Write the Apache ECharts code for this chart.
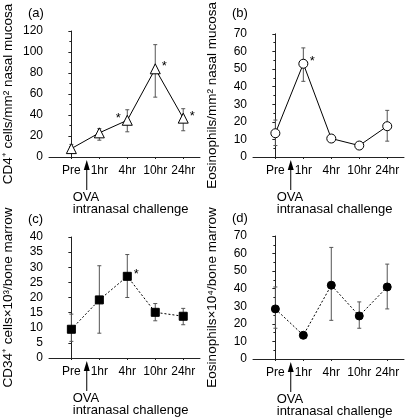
<!DOCTYPE html>
<html><head><meta charset="utf-8">
<script src="https://cdn.jsdelivr.net/npm/echarts@6/dist/echarts.min.js"></script>
<style>html,body{margin:0;padding:0;background:#fff}#c{width:408px;height:418px}</style>
</head><body><div id="c"></div>
<script>
const categories = ['Pre', '1hr', '4hr', '10hr', '24hr'];
const panelLetters = ['(a)', '(b)', '(c)', '(d)'];
const yTitles = ['CD4\u207A cells/mm\u00B2 nasal mucosa', 'Eosinophils/mm\u00B2 nasal mucosa',
                 'CD34\u207A cells\u00D710\u00B3/bone marrow', 'Eosinophils\u00D710\u2074/bone marrow'];
const yMax = [120, 70, 40, 70];
const yStep = [20, 10, 5, 10];
const yMinor = [true, true, false, true];
// (a) CD4+ cells nasal mucosa
const cd4Mean = [8, 23, 35, 84, 37];
const cd4Low = [5, 16, 24, 57, 25];
const cd4High = [12, 27, 45, 107, 46];
const cd4Sig = [0, 0, -1, 1, 1];
// (b) Eosinophils nasal mucosa
const eosNasalMean = [13.5, 53, 10.5, 6.5, 17.5];
const eosNasalLow = [6.5, 43, 10.5, 6.5, 9];
const eosNasalHigh = [21, 62, 10.5, 6.5, 26.5];
const eosNasalSig = [0, 1, 0, 0, 0];
// (c) CD34+ cells bone marrow
const cd34Mean = [9.5, 19.2, 27, 15.1, 13.8];
const cd34Low = [5.5, 8.2, 20, 12.3, 11];
const cd34High = [14.5, 30.5, 34.2, 18, 16.4];
const cd34Sig = [0, 0, 1, 0, 0];
// (d) Eosinophils bone marrow
const eosMarrowMean = [28.5, 13.5, 42, 24.5, 41];
const eosMarrowLow = [17.5, 12.5, 22, 17.5, 28.5];
const eosMarrowHigh = [41, 14.5, 63.5, 32.5, 54];
const eosMarrowSig = [0, 0, 0, 0, 0];
const challengeAt = 0.55;

const panels = [
  {mean: cd4Mean, low: cd4Low, high: cd4High, sig: cd4Sig, symbol: 'triangle', size: 10, fill: '#fff', dash: 'solid'},
  {mean: eosNasalMean, low: eosNasalLow, high: eosNasalHigh, sig: eosNasalSig, symbol: 'circle', size: 9, fill: '#fff', dash: 'solid'},
  {mean: cd34Mean, low: cd34Low, high: cd34High, sig: cd34Sig, symbol: 'rect', size: 8, fill: '#000', dash: [2, 2]},
  {mean: eosMarrowMean, low: eosMarrowLow, high: eosMarrowHigh, sig: eosMarrowSig, symbol: 'circle', size: 8, fill: '#000', dash: [2, 2]}
];
const grids = [
  {left: 49, top: 31, width: 151, height: 126},
  {left: 253, top: 31, width: 151, height: 126},
  {left: 49, top: 237, width: 151, height: 121},
  {left: 253, top: 236, width: 151, height: 123}
];
const FONT = '"Liberation Sans", Arial, Helvetica, sans-serif';

function errRender(params, api) {
  const i = api.value(0);
  const pLo = api.coord([i, api.value(1)]);
  const pHi = api.coord([i, api.value(2)]);
  const pM = api.coord([i, api.value(3)]);
  const s = api.value(4);
  const ch = [];
  const st = {stroke: '#555', lineWidth: 1};
  if (pLo[1] - pHi[1] > 1) {
    ch.push({type: 'line', shape: {x1: pLo[0], y1: pLo[1], x2: pHi[0], y2: pHi[1]}, style: st});
    ch.push({type: 'line', shape: {x1: pLo[0] - 2, y1: pLo[1], x2: pLo[0] + 2, y2: pLo[1]}, style: st});
    ch.push({type: 'line', shape: {x1: pHi[0] - 2, y1: pHi[1], x2: pHi[0] + 2, y2: pHi[1]}, style: st});
  }
  if (s) {
    ch.push({type: 'text', x: pM[0] + s * 9, y: pM[1] - 2,
      style: {text: '*', fill: '#000', font: '13px ' + FONT, align: 'center', verticalAlign: 'middle'}});
  }
  return {type: 'group', children: ch};
}

const option = {
  animation: false,
  backgroundColor: '#fff',
  grid: grids,
  xAxis: grids.map((g, k) => ({
    type: 'value', gridIndex: k, min: -0.8, max: 4.6,
    axisLine: {show: true, onZero: false, lineStyle: {color: '#222', width: 1}},
    axisTick: {show: true, customValues: [0, 1, 2, 3, 4], length: 2, lineStyle: {color: '#222'}},
    axisLabel: {customValues: [0, 1, 2, 3, 4], formatter: v => categories[Math.round(v)] || '',
      color: '#000', fontSize: 12, fontFamily: FONT, margin: 8},
    splitLine: {show: false}
  })),
  yAxis: grids.map((g, k) => ({
    type: 'value', gridIndex: k, min: 0, max: yMax[k], interval: yStep[k],
    name: yTitles[k], nameLocation: 'middle', nameRotate: 90, nameGap: 34,
    nameTextStyle: {color: '#000', fontSize: 13.5, fontFamily: FONT},
    axisLine: {show: true, lineStyle: {color: '#222', width: 1}},
    axisTick: {show: true, length: 3, lineStyle: {color: '#222'}},
    minorTick: {show: yMinor[k], splitNumber: 2, length: 2, lineStyle: {color: '#222'}},
    axisLabel: {color: '#000', fontSize: 12, fontFamily: FONT, margin: 6},
    splitLine: {show: false}
  })),
  series: []
};
panels.forEach((p, k) => {
  option.series.push({
    type: 'custom', xAxisIndex: k, yAxisIndex: k, z: 1,
    renderItem: errRender,
    encode: {x: 0, y: [1, 2]},
    data: p.mean.map((m, i) => [i, p.low[i], p.high[i], m, p.sig[i]])
  });
  option.series.push({
    type: 'line', xAxisIndex: k, yAxisIndex: k, z: 2,
    data: p.mean.map((m, i) => [i, m]),
    symbol: p.symbol, symbolSize: p.size,
    lineStyle: {color: '#000', width: 1, type: p.dash},
    itemStyle: {color: p.fill, borderColor: '#000', borderWidth: 1}
  });
});

const chart = echarts.init(document.getElementById('c'), null, {renderer: 'canvas'});
chart.setOption(option);

const graphics = [];
grids.forEach((g, k) => {
  const ax = chart.convertToPixel({xAxisIndex: k}, challengeAt);
  const ay = g.top + g.height;
  graphics.push({type: 'text', left: g.left - 21, top: g.top - 24,
    style: {text: panelLetters[k], fill: '#000', font: '13px ' + FONT}});
  graphics.push({type: 'polygon', shape: {points: [[ax, ay + 3], [ax - 3, ay + 13], [ax + 3, ay + 13]]},
    style: {fill: '#000'}});
  graphics.push({type: 'line', shape: {x1: ax, y1: ay + 12, x2: ax, y2: ay + 33},
    style: {stroke: '#000', lineWidth: 1}});
  graphics.push({type: 'text', x: ax - 14, y: ay + 40,
    style: {text: 'OVA', fill: '#000', font: '13px ' + FONT, verticalAlign: 'middle'}});
  graphics.push({type: 'text', x: ax - 14, y: ay + 52,
    style: {text: 'intranasal challenge', fill: '#000', font: '13px ' + FONT, verticalAlign: 'middle'}});
});
chart.setOption({graphic: graphics});
</script>
</body></html>
